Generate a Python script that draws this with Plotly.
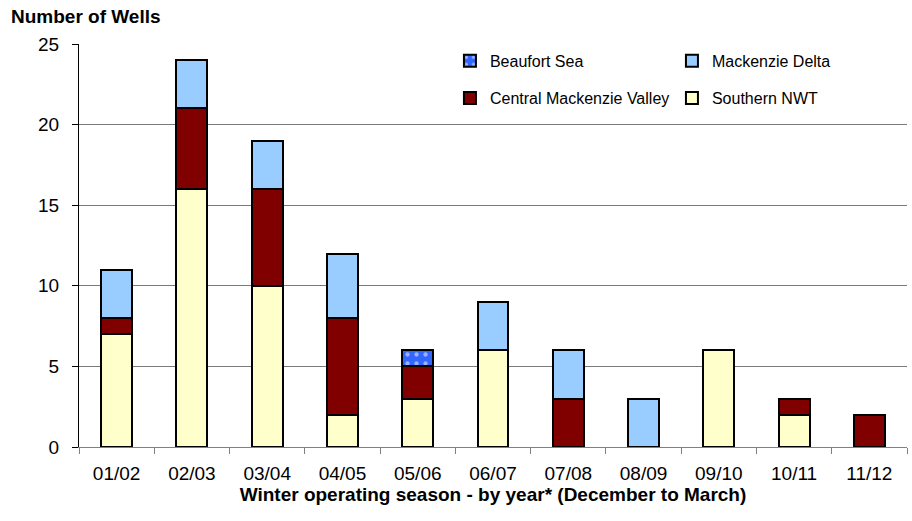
import plotly.graph_objects as go

seasons = ["01/02", "02/03", "03/04", "04/05", "05/06", "06/07", "07/08", "08/09", "09/10", "10/11", "11/12"]
southern_nwt = [7, 16, 10, 2, 3, 6, 0, 0, 6, 2, 0]
central_mackenzie = [1, 5, 6, 6, 2, 0, 3, 0, 0, 1, 2]
mackenzie_delta = [3, 3, 3, 4, 0, 3, 3, 3, 0, 0, 0]
beaufort_sea = [0, 0, 0, 0, 1, 0, 0, 0, 0, 0, 0]

FONT = "Liberation Sans, Arial, sans-serif"
line = dict(color="black", width=2)

fig = go.Figure()
fig.add_trace(go.Bar(x=seasons, y=southern_nwt, name="Southern NWT",
                     marker=dict(color="#FFFFCC", line=line), legend="legend2"))
fig.add_trace(go.Bar(x=seasons, y=central_mackenzie, name="Central Mackenzie Valley",
                     marker=dict(color="#800000", line=line), legend="legend2"))
fig.add_trace(go.Bar(x=seasons, y=mackenzie_delta, name="Mackenzie Delta",
                     marker=dict(color="#99CCFF", line=line), legend="legend"))
fig.add_trace(go.Bar(x=seasons, y=beaufort_sea, name="Beaufort Sea",
                     marker=dict(color="#3366FF", line=line,
                                 pattern=dict(shape=".", fgcolor="white", bgcolor="#3366FF",
                                              size=9, solidity=0.18)),
                     legend="legend"))

legend_common = dict(orientation="h", font=dict(family=FONT, size=16, color="black"),
                     bgcolor="rgba(0,0,0,0)", entrywidth=177, entrywidthmode="pixels",
                     xanchor="left", yanchor="middle", x=0.448, itemclick=False,
                     traceorder="reversed")

fig.update_layout(
    width=912, height=521,
    margin=dict(l=79, r=5, t=44, b=74),
    paper_bgcolor="white", plot_bgcolor="white",
    barmode="stack", bargap=0.59,
    font=dict(family=FONT, size=19, color="black"),
    legend=dict(legend_common, y=0.958),
    legend2=dict(legend_common, y=0.866),
    xaxis=dict(
        showline=True, linecolor="#808080", linewidth=1,
        ticks="outside", tickson="boundaries", ticklen=6, tickcolor="#808080",
        tickfont=dict(size=19), showgrid=False, ticklabelstandoff=9,
        title=dict(text="<b>Winter operating season - by year* (December to March)</b>",
                   font=dict(size=19), standoff=3),
    ),
    yaxis=dict(
        range=[0, 25], dtick=5, showline=True, linecolor="black", linewidth=1,
        ticks="outside", ticklen=6, tickcolor="black", ticklabelstandoff=9,
        showgrid=True, gridcolor="#7a7a7a", gridwidth=1,
        tickfont=dict(size=19), zeroline=False,
    ),
    annotations=[dict(text="<b>Number of Wells</b>", xref="paper", yref="paper",
                      x=-0.085, y=1.067, xanchor="left", yanchor="middle",
                      showarrow=False, font=dict(size=19))],
)

fig.write_html("out.html")
